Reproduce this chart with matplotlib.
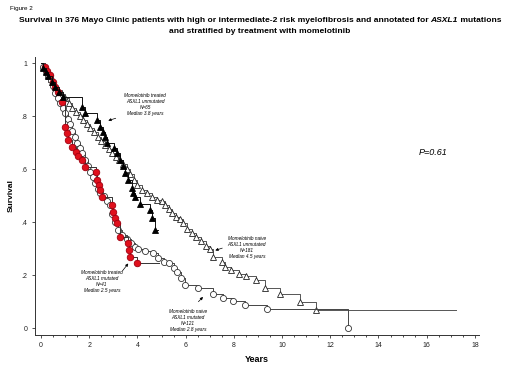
import numpy as np
import matplotlib
matplotlib.use('Agg')
import matplotlib.pyplot as plt
from matplotlib.ticker import MultipleLocator, FuncFormatter

plt.rcParams['font.family'] = ['Liberation Sans', 'DejaVu Sans']

# momelotinib naive, ASXL1 unmutated (open triangles)
naive_unmut_t = [0, 0.1, 0.2, 0.3, 0.4, 0.5, 0.6, 0.7, 0.85, 1.0, 1.15, 1.3, 1.45, 1.6,
                 1.75, 1.9, 2.05, 2.2, 2.35, 2.5, 2.65, 2.8, 2.95, 3.1, 3.25, 3.4, 3.55,
                 3.7, 3.85, 4.0, 4.2, 4.4, 4.6, 4.8, 5.0, 5.15, 5.3, 5.45, 5.6, 5.75, 5.9,
                 6.05, 6.25, 6.45, 6.65, 6.85, 7.0, 7.15, 7.5, 7.65, 7.9, 8.2, 8.5, 8.9,
                 9.3, 9.9, 10.75, 11.4]
naive_unmut_s = [1, 0.985, 0.97, 0.955, 0.94, 0.93, 0.915, 0.9, 0.885, 0.87, 0.85, 0.83,
                 0.815, 0.8, 0.785, 0.77, 0.755, 0.74, 0.72, 0.705, 0.69, 0.675, 0.66,
                 0.645, 0.635, 0.62, 0.6, 0.58, 0.56, 0.54, 0.52, 0.51, 0.495, 0.485, 0.48,
                 0.465, 0.45, 0.435, 0.42, 0.41, 0.395, 0.375, 0.36, 0.345, 0.33, 0.31,
                 0.3, 0.27, 0.25, 0.23, 0.22, 0.205, 0.195, 0.18, 0.15, 0.13, 0.1, 0.068]
naive_unmut_end = 17.2

# momelotinib naive, ASXL1 mutated (open circles)
naive_mut_t = [0, 0.1, 0.2, 0.3, 0.4, 0.5, 0.58, 0.7, 0.8, 0.9, 1.0, 1.1, 1.2, 1.3, 1.41,
               1.5, 1.6, 1.7, 1.83, 1.95, 2.05, 2.15, 2.24, 2.35, 2.45, 2.6, 2.72, 2.86,
               2.95, 3.07, 3.2, 3.35, 3.55, 3.75, 3.9, 4.04, 4.3, 4.66, 4.87, 5.1, 5.3,
               5.5, 5.63, 5.8, 5.98, 6.53, 7.15, 7.54, 7.98, 8.46, 9.36, 12.75]
naive_mut_s = [1, 0.985, 0.97, 0.95, 0.935, 0.915, 0.886, 0.87, 0.85, 0.83, 0.81, 0.79,
               0.77, 0.745, 0.722, 0.7, 0.68, 0.66, 0.634, 0.61, 0.59, 0.57, 0.546, 0.525,
               0.51, 0.497, 0.48, 0.464, 0.43, 0.4, 0.37, 0.351, 0.335, 0.32, 0.307, 0.3,
               0.29, 0.282, 0.263, 0.25, 0.244, 0.225, 0.212, 0.19, 0.162, 0.15, 0.13,
               0.112, 0.103, 0.087, 0.072, 0.0]
naive_mut_end = 12.75

# momelotinib treated, ASXL1 unmutated (filled triangles)
trt_unmut_t = [0, 0.1, 0.2, 0.3, 0.45, 0.6, 0.75, 0.93, 1.69, 1.83, 2.31, 2.45, 2.58,
               2.65, 2.72, 3.04, 3.15, 3.28, 3.4, 3.49, 3.6, 3.76, 3.83, 3.9, 4.11, 4.52,
               4.59, 4.73]
trt_unmut_s = [1, 0.98, 0.965, 0.95, 0.93, 0.91, 0.89, 0.873, 0.835, 0.81, 0.785, 0.76,
               0.74, 0.72, 0.7, 0.68, 0.66, 0.634, 0.61, 0.585, 0.56, 0.527, 0.51, 0.495,
               0.47, 0.445, 0.414, 0.37]
trt_unmut_end = 4.85

# momelotinib treated, ASXL1 mutated (red circles)
trt_mut_t = [0, 0.15, 0.25, 0.37, 0.5, 0.6, 0.7, 0.86, 1.0, 1.07, 1.12, 1.3, 1.45, 1.55,
             1.69, 1.83, 2.28, 2.31, 2.4, 2.45, 2.52, 2.93, 3.0, 3.07, 3.14, 3.28, 3.62,
             3.65, 3.69, 3.97]
trt_mut_s = [1, 0.985, 0.97, 0.955, 0.93, 0.91, 0.89, 0.854, 0.76, 0.735, 0.71, 0.684,
             0.665, 0.65, 0.634, 0.609, 0.59, 0.558, 0.54, 0.52, 0.495, 0.464, 0.439,
             0.415, 0.395, 0.345, 0.32, 0.294, 0.269, 0.244]
trt_mut_end = 4.9

labels = ['Momelotinib treated\nASXL1 unmutated\nN=65\nMedian 3.8 years',
          'Momelotinib naive\nASXL1 unmutated\nN=181\nMedian 4.5 years',
          'Momelotinib treated\nASXL1 mutated\nN=41\nMedian 2.5 years',
          'Momelotinib naive\nASXL1 mutated\nN=121\nMedian 2.8 years']
label_xy = [(4.32, 0.845), (8.54, 0.304), (2.52, 0.174), (6.1, 0.027)]
arrow_tail = [(3.21, 0.795), (7.63, 0.305), (3.32, 0.209), (6.45, 0.092)]
arrow_head = [(2.68, 0.78), (7.12, 0.29), (3.69, 0.252), (6.8, 0.125)]


def km_curve(ax, t, s, t_end, marker, mfc, mec, ms, lc, z):
    tt = list(t) + [t_end]
    ss = list(s) + [s[-1]]
    ax.plot(tt, ss, drawstyle='steps-post', color=lc, lw=0.7, zorder=z)
    ax.plot(t[1:], s[1:], ls='none', marker=marker, mfc=mfc, mec=mec, ms=ms,
            mew=0.6, zorder=z + 0.5)


fig = plt.figure(figsize=(5.2, 3.9), dpi=100)
ax = fig.add_axes([0.0673, 0.1418, 0.8538, 0.712])

km_curve(ax, naive_unmut_t, naive_unmut_s, naive_unmut_end, '^', 'white', '#222222', 4.4, '#555555', 2)
km_curve(ax, naive_mut_t, naive_mut_s, naive_mut_end, 'o', 'white', '#333333', 4.4, '#444444', 3)
km_curve(ax, trt_mut_t, trt_mut_s, trt_mut_end, 'o', '#e0101c', '#a00010', 4.7, '#333333', 4)
km_curve(ax, trt_unmut_t, trt_unmut_s, trt_unmut_end, '^', 'black', 'black', 4.7, '#111111', 5)

for lab, xy, tail, head in zip(labels, label_xy, arrow_tail, arrow_head):
    ax.text(xy[0], xy[1], lab, fontsize=3.4, style='italic', ha='center', va='center',
            linespacing=1.25)
    ax.annotate('', xy=head, xytext=tail,
                arrowprops=dict(arrowstyle='-|>', lw=0.5, color='black',
                                mutation_scale=4))

ax.text(16.25, 0.664, 'P=0.61', fontsize=6.5, style='italic', ha='center', va='center')

ax.set_xlim(-0.25, 18.17)
ax.set_ylim(-0.025, 1.023)
ax.xaxis.set_major_locator(MultipleLocator(2))
ax.xaxis.set_minor_locator(MultipleLocator(0.5))
ax.yaxis.set_major_locator(MultipleLocator(0.2))
ax.yaxis.set_major_formatter(FuncFormatter(
    lambda v, p: '0' if abs(v) < 1e-9 else ('1' if abs(v - 1) < 1e-9 else ('%.1f' % v)[1:])))
ax.tick_params(axis='both', labelsize=5, length=2.5, width=0.6, pad=3, color='#333333',
               labelcolor='#222222')
ax.tick_params(axis='x', which='minor', length=1.5, width=0.5)
for side in ['top', 'right']:
    ax.spines[side].set_visible(False)
for side in ['left', 'bottom']:
    ax.spines[side].set_linewidth(0.7)
    ax.spines[side].set_color('#333333')

ax.set_xlabel('Years', fontsize=6.5, fontweight='bold', labelpad=4)
ax.set_ylabel('Survival', fontsize=6, fontweight='bold', labelpad=5)

fig.text(0.019, 0.985, 'Figure 2', fontsize=4.5, va='top', ha='left')

# title with italic gene name
fig.canvas.draw()
r = fig.canvas.get_renderer()
parts = [('Survival in 376 Mayo Clinic patients with high or intermediate-2 risk myelofibrosis and annotated for ', 'normal'),
         ('ASXL1', 'italic'), (' mutations', 'normal')]
objs = [fig.text(0, 0.948, p, fontsize=6.1, fontweight='bold', style=st, va='center', ha='left')
        for p, st in parts]
widths = [o.get_window_extent(r).width / fig.bbox.width for o in objs]
x0 = 0.5 - sum(widths) / 2
for o, w in zip(objs, widths):
    o.set_x(x0)
    x0 += w
fig.text(0.5, 0.92, 'and stratified by treatment with momelotinib', fontsize=6.1,
         fontweight='bold', ha='center', va='center')

fig.savefig('out.png', dpi=100)
